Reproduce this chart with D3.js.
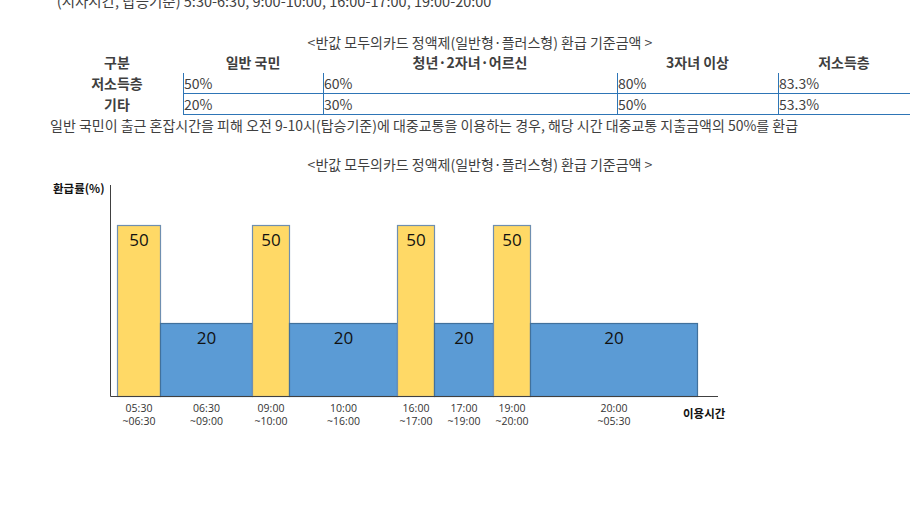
<!DOCTYPE html>
<html><head><meta charset="utf-8">
<script src="https://cdn.jsdelivr.net/npm/d3@7"></script>
<style>
html,body{margin:0;padding:0;background:#fff;overflow:hidden}
svg{display:block;font-family:"Noto Sans CJK KR","Noto Sans",sans-serif}
</style></head>
<body>
<svg id="c" width="920" height="520"></svg>
<script>
// ---- data ----
const noteTop = "*(시차시간, 탑승기준) 5:30-6:30, 9:00-10:00, 16:00-17:00, 19:00-20:00";
const tableTitle = "<반값 모두의카드 정액제(일반형·플러스형) 환급 기준금액 >";
const tableHeaders = ["구분", "일반 국민", "청년·2자녀·어르신", "3자녀 이상", "저소득층"];
const tableRowNames = ["저소득층", "기타"];
const tableLowIncome = ["50%", "60%", "80%", "83.3%"];
const tableOther = ["20%", "30%", "50%", "53.3%"];
const noteBottom = "일반 국민이 출근 혼잡시간을 피해 오전 9-10시(탑승기준)에 대중교통을 이용하는 경우, 해당 시간 대중교통 지출금액의 50%를 환급";
const chartTitle = "<반값 모두의카드 정액제(일반형·플러스형) 환급 기준금액 >";
const yAxisLabel = "환급률(%)";
const xAxisLabel = "이용시간";
// time slots (hours, 29.5 = next-day 05:30)
const slotStart = [5.5, 6.5, 9, 10, 16, 17, 19, 20];
const slotEnd   = [6.5, 9, 10, 16, 17, 19, 20, 29.5];
const slotFrom  = ["05:30", "06:30", "09:00", "10:00", "16:00", "17:00", "19:00", "20:00"];
const slotTo    = ["~06:30", "~09:00", "~10:00", "~16:00", "~17:00", "~19:00", "~20:00", "~05:30"];
const refundRate = [50, 20, 50, 20, 50, 20, 50, 20];
const peakFlag   = [true, false, true, false, true, false, true, false];

// ---- drawing ----
const svg = d3.select("#c");
const textCol = "#3f3f3f";

svg.append("text").attr("x", 50).attr("y", 7).attr("font-size", 14.5).attr("fill", textCol).text(noteTop);

svg.append("text").attr("x", 480).attr("y", 48).attr("text-anchor", "middle")
  .attr("font-size", 14).attr("fill", textCol).text(tableTitle);

// table
const colEdges = [51, 183, 323, 617, 778, 910];
const rowY = [63, 84, 105];
const tcol = "#2e75b6";
tableHeaders.forEach((h, i) => {
  svg.append("text").attr("x", (colEdges[i] + colEdges[i + 1]) / 2).attr("y", rowY[0] + 5)
    .attr("text-anchor", "middle").attr("font-size", 14).attr("font-weight", "bold")
    .attr("fill", textCol).text(h);
});
[tableLowIncome, tableOther].forEach((row, r) => {
  svg.append("text").attr("x", (colEdges[0] + colEdges[1]) / 2).attr("y", rowY[r + 1] + 5)
    .attr("text-anchor", "middle").attr("font-size", 14).attr("font-weight", "bold")
    .attr("fill", textCol).text(tableRowNames[r]);
  row.forEach((v, i) => {
    svg.append("text").attr("x", colEdges[i + 1] + 1).attr("y", rowY[r + 1] + 5)
      .attr("font-size", 14).attr("fill", textCol).text(v);
  });
});
[1, 2, 3, 4].forEach(i => {
  svg.append("line").attr("x1", colEdges[i] + 0.5).attr("x2", colEdges[i] + 0.5)
    .attr("y1", 73).attr("y2", 115).attr("stroke", tcol).attr("stroke-width", 1);
});
[93.5, 114.5].forEach(y => {
  svg.append("line").attr("x1", colEdges[1]).attr("x2", colEdges[5])
    .attr("y1", y).attr("y2", y).attr("stroke", tcol).attr("stroke-width", 1);
});

svg.append("text").attr("x", 50).attr("y", 131).attr("font-size", 14).attr("fill", textCol).text(noteBottom);

svg.append("text").attr("x", 480).attr("y", 170).attr("text-anchor", "middle")
  .attr("font-size", 14).attr("fill", textCol).text(chartTitle);

// chart
const baseY = 396.5;
const x = d3.scaleLinear()
  .domain([5.5, 6.5, 9, 10, 16, 17, 19, 20, 29.5])
  .range([117.5, 160.5, 252.5, 289.5, 397.5, 434.5, 493.5, 530.5, 697.5]);
const y = d3.scaleLinear().domain([20, 50]).range([323.5, 225.5]);

const g = svg.append("g");
const idx = d3.range(slotStart.length);

g.selectAll("rect.bar").data(idx).join("rect").attr("class", "bar")
  .attr("x", i => x(slotStart[i]))
  .attr("width", i => x(slotEnd[i]) - x(slotStart[i]))
  .attr("y", i => y(refundRate[i]))
  .attr("height", i => baseY - y(refundRate[i]))
  .attr("fill", i => peakFlag[i] ? "#ffd966" : "#5b9bd5")
  .attr("stroke", i => peakFlag[i] ? "#6f8fb0" : "#41719c")
  .attr("stroke-width", 1.2);

g.selectAll("text.val").data(idx).join("text").attr("class", "val")
  .attr("x", i => (x(slotStart[i]) + x(slotEnd[i])) / 2)
  .attr("y", i => y(refundRate[i]) + 20)
  .attr("text-anchor", "middle").attr("font-size", 17).attr("fill", "#111")
  .attr("font-family", "'Open Sans','Noto Sans',sans-serif")
  .text(i => refundRate[i]);

// axes
svg.append("line").attr("x1", 110.5).attr("x2", 110.5).attr("y1", 185).attr("y2", baseY)
  .attr("stroke", "#404040").attr("stroke-width", 1);
svg.append("line").attr("x1", 110.5).attr("x2", 718).attr("y1", baseY).attr("y2", baseY)
  .attr("stroke", "#404040").attr("stroke-width", 1);

svg.append("text").attr("x", 53).attr("y", 193).attr("font-size", 11.5).attr("font-weight", "bold")
  .attr("fill", "#111").text(yAxisLabel);
svg.append("text").attr("x", 683).attr("y", 418).attr("font-size", 11.5).attr("font-weight", "bold")
  .attr("fill", "#111").text(xAxisLabel);

const lab = g.selectAll("g.lab").data(idx).join("g").attr("class", "lab")
  .attr("transform", i => `translate(${(x(slotStart[i]) + x(slotEnd[i])) / 2},0)`);
lab.append("text").attr("y", 412).attr("text-anchor", "middle").attr("font-size", 10.5)
  .attr("fill", "#333").attr("font-family", "'Open Sans','Noto Sans',sans-serif").text(i => slotFrom[i]);
lab.append("text").attr("y", 425).attr("text-anchor", "middle").attr("font-size", 10.5)
  .attr("fill", "#333").attr("font-family", "'Open Sans','Noto Sans',sans-serif").text(i => slotTo[i]);
</script>
</body></html>
